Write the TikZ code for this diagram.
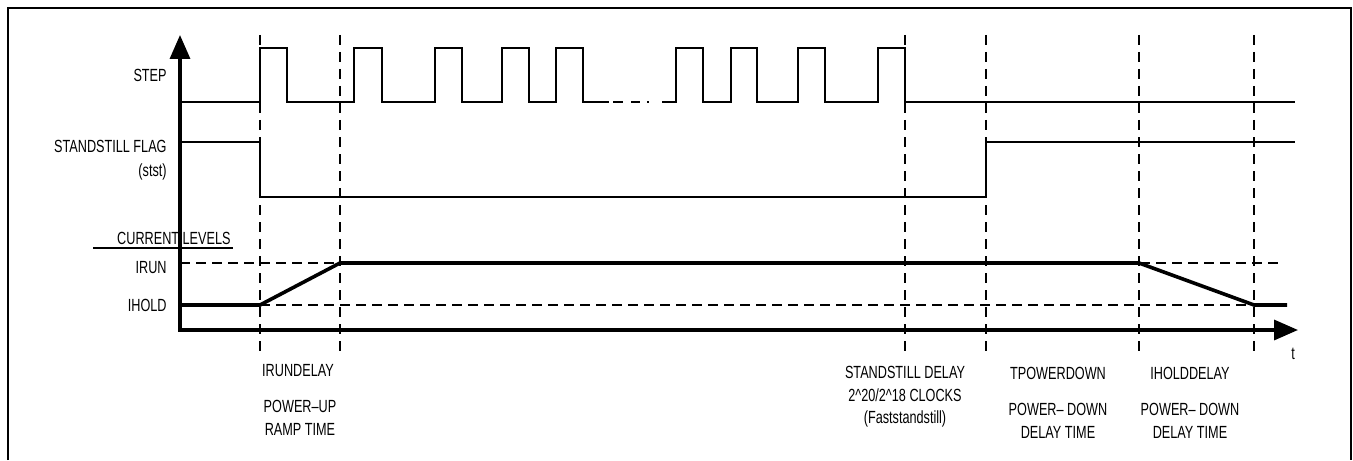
\documentclass[tikz,border=0pt]{standalone}
\usepackage{fontspec}
\setmainfont[FakeStretch=0.72]{Liberation Sans}
\usetikzlibrary{arrows.meta}
\tikzset{
  tlab/.style={font=\fontsize{8.8}{11.3}\selectfont,inner sep=0pt},
  llab/.style={tlab,anchor=east},
  blab/.style={tlab,align=center,anchor=center},
  taxis/.style={line width=1.7pt,line cap=rect,-{Triangle[length=12pt,width=10pt]}},
  sig/.style={line width=0.7pt},
  cur/.style={line width=1.8pt},
  vdash/.style={line width=0.7pt,dash pattern=on 5pt off 3.5pt},
  hdash/.style={line width=0.6pt,dash pattern=on 5pt off 3pt}
}

\begin{document}
\begin{tikzpicture}[x=0.5pt,y=-0.5pt]
\useasboundingbox (0,0) rectangle (1353,460);
% frame, open at the bottom
\draw[line width=1.3pt] (8,460) -- (8,8) -- (1351,8) -- (1351,460);
% time marks
\foreach \x in {260,340,905,986,1139,1254}
  \draw[vdash] (\x,35) -- (\x,357);
\draw[hdash] (180,263) -- (1282,263);
\draw[hdash] (180,305) -- (1282,305);
% axes
\coordinate (o) at (180,330);
\coordinate (ytop) at (180,35);
\coordinate (tend) at (1298,330);
\draw[taxis] (o) -- (ytop);
\draw[taxis] (o) -- (tend);
% STEP
\draw[sig] (180,102) \foreach \a/\b in {260/287,354/382,435/462,502/529,556/583}
  { -- (\a,102) -- (\a,48) -- (\b,48) -- (\b,102) } -- (609,102);
\foreach \a/\b in {613/623,631/640,647/649}
  \draw[sig] (\a,102) -- (\b,102);
\draw[sig] (662,102) \foreach \a/\b in {676/703,731/757,798/825,878/905}
  { -- (\a,102) -- (\a,48) -- (\b,48) -- (\b,102) } -- (1295,102);
% standstill flag
\draw[sig] (180,142) -- (260,142) -- (260,197) -- (986,197) -- (986,142) -- (1295,142);
% motor current
\draw[cur] (180,305) -- (260,305) -- (340,263) -- (1139,263) -- (1254,305) -- (1287,305);
\draw[line width=1.3pt] (93,248) -- (233,248);
% labels
\node[llab] (step) at (167,75) {STEP};
\node[llab] (flag) at (167,146) {STANDSTILL FLAG};
\node[llab] (stst) at (167,172) {(stst)};
\node[llab] (levels) at (231,238) {CURRENT LEVELS};
\node[llab] (irun) at (167,268) {IRUN};
\node[llab] (ihold) at (167,305) {IHOLD};
\node[tlab] (tlabel) at (1293,354) {t};
\node[blab] (irundly) at (298,371) {IRUNDELAY};
\node[blab] (pwrup) at (300,418) {POWER–UP\\RAMP TIME};
\node[blab] (ststdly) at (905,397) {STANDSTILL DELAY\\2\^{}20/2\^{}18 CLOCKS\\(Faststandstill)};
\node[blab] (tpwr) at (1058,373) {TPOWERDOWN};
\node[blab] (tpwrtxt) at (1058,421) {POWER– DOWN\\DELAY TIME};
\node[blab] (iholddly) at (1190,373) {IHOLDDELAY};
\node[blab] (iholdtxt) at (1190,421) {POWER– DOWN\\DELAY TIME};
\end{tikzpicture}
\end{document}
